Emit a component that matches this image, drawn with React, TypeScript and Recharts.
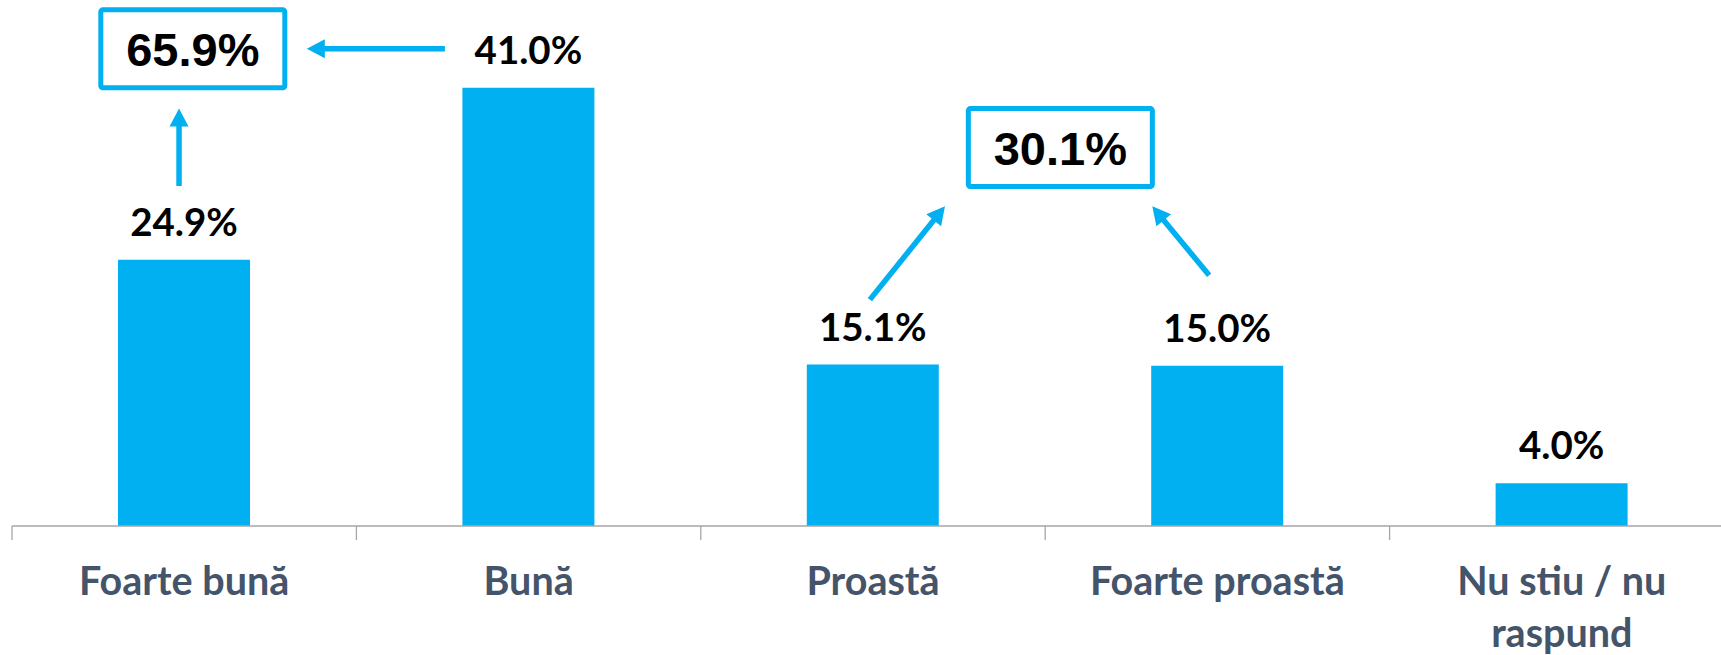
import React from 'react'
import { BarChart, Bar, XAxis, YAxis, LabelList, ReferenceLine, ReferenceDot } from 'recharts'

// survey answers
const categories = ['Foarte bună', 'Bună', 'Proastă', 'Foarte proastă', 'Nu stiu / nu\nraspund']
const values = [24.9, 41.0, 15.1, 15.0, 4.0]

// summed boxes (x in category units: 0 = left edge of first band, 5 = right edge of last; y in %)
const totalLabels = ['65.9%', '30.1%']
const totalX = [0.525, 3.044]
const totalY = [44.64, 35.4]

// arrows: [x, y] from -> to, same units as the boxes
const arrowFrom = [[1.257, 44.66], [0.485, 31.81], [2.491, 21.18], [3.476, 23.45]]
const arrowTo = [[0.856, 44.66], [0.485, 39.05], [2.709, 29.91], [3.311, 29.91]]

const BLUE = '#00b0f0'
const AXIS = '#a6a6a6'
const LABEL = '#44546a'
const CHART_W = 1745
const CHART_H = 655
const M_LEFT = 12
const M_RIGHT = 11
const BAND = (CHART_W - M_LEFT - M_RIGHT) / categories.length

const data = categories.map((name, i) => ({ name, value: values[i] }))

// split a band position into the category it falls in and the offset from that band's centre
const anchor = (x: number) => {
  const k = Math.min(categories.length - 1, Math.max(0, Math.floor(x)))
  return { cat: categories[k], off: (x - k - 0.5) * BAND }
}

const CategoryTick = (props: any) => {
  const { x, y, payload, index } = props
  const lines = String(payload.value).split('\n')
  return (
    <g>
      <line x1={x - BAND / 2} y1={y} x2={x - BAND / 2} y2={y + 14} stroke={AXIS} strokeWidth={1.3} />
      {index === categories.length - 1 && (
        <line x1={x + BAND / 2} y1={y} x2={x + BAND / 2} y2={y + 14} stroke={AXIS} strokeWidth={1.3} />
      )}
      <text x={x} y={y + 69} textAnchor="middle" fill={LABEL} fontFamily="Lato, sans-serif" fontWeight={700} fontSize={39.5}>
        {lines.map((l, i) => (
          <tspan key={i} x={x} dy={i === 0 ? 0 : 51.5}>{l}</tspan>
        ))}
      </text>
    </g>
  )
}

const Arrow = ({ x1, y1, x2, y2 }: any) => {
  const dx = x2 - x1
  const dy = y2 - y1
  const len = Math.hypot(dx, dy) || 1
  const ux = dx / len
  const uy = dy / len
  const hl = 18
  const hw = 9.5
  const bx = x2 - ux * hl
  const by = y2 - uy * hl
  return (
    <g>
      <line x1={x1} y1={y1} x2={bx + ux * 2} y2={by + uy * 2} stroke={BLUE} strokeWidth={5.5} />
      <polygon
        points={`${x2},${y2} ${bx - uy * hw},${by + ux * hw} ${bx + uy * hw},${by - ux * hw}`}
        fill={BLUE}
      />
    </g>
  )
}

const TotalBox = (label: string, off: number) => (p: any) => {
  const cx = p.cx + off
  return (
    <g>
      <rect x={cx - 92} y={p.cy - 39} width={184} height={78} rx={2} fill="#fff" stroke={BLUE} strokeWidth={5} />
      <text x={cx} y={p.cy + 17.5} textAnchor="middle" fill="#000" fontFamily="'Liberation Sans', Arial, sans-serif" fontWeight={700} fontSize={47}>
        {label}
      </text>
    </g>
  )
}

export default function App() {
  return (
    <div style={{ position: 'absolute', left: 0, top: 0, width: 1721, height: 655, overflow: 'hidden', background: '#fff' }}>
      <BarChart width={CHART_W} height={CHART_H} data={data} margin={{ top: 45, right: M_RIGHT, bottom: 0, left: M_LEFT }}>
        <XAxis
          dataKey="name"
          height={129}
          interval={0}
          axisLine={{ stroke: AXIS, strokeWidth: 1.3 }}
          tickLine={false}
          tickSize={0}
          tickMargin={0}
          tick={<CategoryTick />}
        />
        <YAxis domain={[0, 45]} hide />
        <Bar dataKey="value" fill={BLUE} barSize={132} isAnimationActive={false}>
          <LabelList
            dataKey="value"
            position="top"
            offset={24}
            formatter={(v: any) => `${Number(v).toFixed(1)}%`}
            fill="#000"
            fontFamily="Lato, sans-serif"
            fontWeight={700}
            fontSize={38.5}
          />
        </Bar>
        {arrowFrom.map((f, i) => {
          const a = anchor(f[0])
          const b = anchor(arrowTo[i][0])
          return (
            <ReferenceLine
              key={`a${i}`}
              segment={[{ x: a.cat, y: f[1] }, { x: b.cat, y: arrowTo[i][1] }]}
              ifOverflow="visible"
              shape={(p: any) => <Arrow x1={p.x1 + a.off} y1={p.y1} x2={p.x2 + b.off} y2={p.y2} />}
            />
          )
        })}
        {totalLabels.map((t, i) => {
          const a = anchor(totalX[i])
          return (
            <ReferenceDot
              key={`b${i}`}
              x={a.cat}
              y={totalY[i]}
              ifOverflow="visible"
              shape={TotalBox(t, a.off)}
            />
          )
        })}
      </BarChart>
    </div>
  )
}
